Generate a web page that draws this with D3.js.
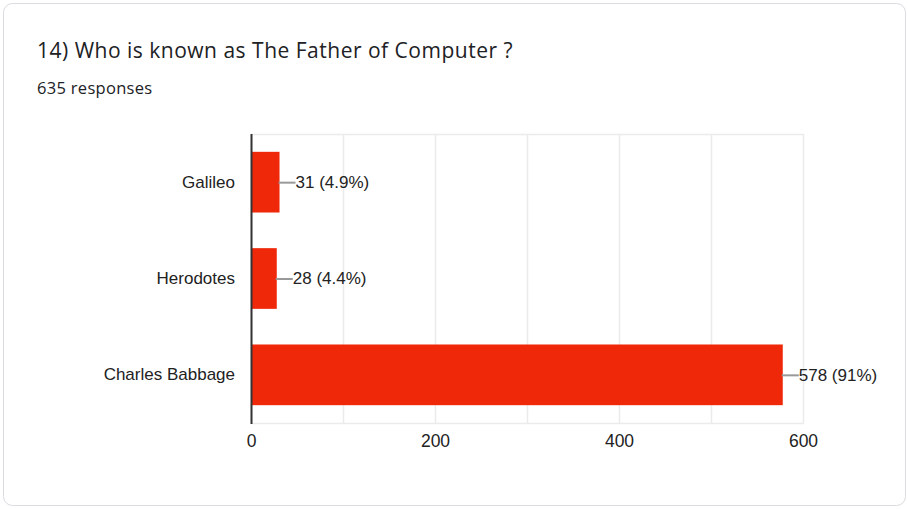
<!DOCTYPE html>
<html><head><meta charset="utf-8">
<script src="https://cdn.jsdelivr.net/npm/d3@7"></script>
<style>body{margin:0;background:#fff}svg{display:block}</style>
</head><body>
<svg id="c" width="908" height="509"></svg>
<script>
const categories = ["Galileo", "Herodotes", "Charles Babbage"];
const values = [31, 28, 578];
const percents = ["4.9%", "4.4%", "91%"];
const ticks = [0, 200, 400, 600];
const gridTicks = [0, 100, 200, 300, 400, 500, 600];
const title = "14) Who is known as The Father of Computer ?";
const subtitle = "635 responses";

(function () {
const svg = d3.select("#c");
svg.append("rect").attr("x", 3.5).attr("y", 3.5).attr("width", 902).attr("height", 502)
  .attr("rx", 9).attr("fill", "#fff").attr("stroke", "#dadce0").attr("stroke-width", 1);
svg.append("text").attr("x", 37).attr("y", 58).text(title)
  .attr("font-family", "Open Sans, sans-serif").attr("font-size", 21).attr("letter-spacing", 0.5).attr("fill", "#202124");
svg.append("text").attr("x", 37).attr("y", 94).text(subtitle)
  .attr("font-family", "Open Sans, sans-serif").attr("font-size", 16.5).attr("letter-spacing", 0.3).attr("fill", "#202124");

const mL = 251, mR = 803, mT = 134, mB = 423;
const x = d3.scaleLinear().domain([0, 600]).range([mL, mR]);
const y = d3.scaleBand().domain(categories).range([mT, mB]).paddingInner(0.37).paddingOuter(0.185);

const g = svg.append("g");
g.selectAll("line.grid").data(gridTicks).join("line").attr("class", "grid")
  .attr("x1", d => x(d) + 0.5).attr("x2", d => x(d) + 0.5).attr("y1", mT).attr("y2", mB)
  .attr("stroke", "#ebebeb").attr("stroke-width", 1.5);
[mT, mB].forEach(yy => g.append("line").attr("x1", mL).attr("x2", mR + 1)
  .attr("y1", yy + 0.5).attr("y2", yy + 0.5).attr("stroke", "#ebebeb").attr("stroke-width", 1.5));

const data = categories.map((c, i) => ({c, v: values[i], p: percents[i]}));
g.selectAll("rect.bar").data(data).join("rect").attr("class", "bar")
  .attr("x", x(0)).attr("y", d => y(d.c)).attr("width", d => x(d.v) - x(0)).attr("height", y.bandwidth())
  .attr("fill", "#f0280a");

g.selectAll("line.lead").data(data).join("line").attr("class", "lead")
  .attr("x1", d => x(d.v) - 1).attr("x2", d => x(d.v) + 16)
  .attr("y1", d => y(d.c) + y.bandwidth() / 2 + 0.5).attr("y2", d => y(d.c) + y.bandwidth() / 2 + 0.5)
  .attr("stroke", "#999").attr("stroke-width", 2);
g.selectAll("text.val").data(data).join("text").attr("class", "val")
  .attr("x", d => x(d.v) + 16).attr("y", d => y(d.c) + y.bandwidth() / 2).attr("dy", "0.35em")
  .text(d => `${d.v} (${d.p})`)
  .attr("font-family", "Liberation Sans, Arial, sans-serif").attr("font-size", 17).attr("fill", "#222");

const yAxis = g.append("g").attr("transform", `translate(${mL - 16},0)`)
  .call(d3.axisLeft(y).tickSize(0).tickPadding(0));
yAxis.select(".domain").remove();
yAxis.selectAll("text").attr("font-family", "Liberation Sans, Arial, sans-serif").attr("font-size", 17).attr("fill", "#222");

const xAxis = g.append("g").attr("transform", `translate(0,${mB})`)
  .call(d3.axisBottom(x).tickValues(ticks).tickSize(0).tickPadding(12).tickFormat(d3.format("d")));
xAxis.select(".domain").remove();
xAxis.selectAll("text").attr("font-family", "Liberation Sans, Arial, sans-serif").attr("font-size", 17.5).attr("fill", "#222");

g.append("line").attr("x1", mL + 0.5).attr("x2", mL + 0.5).attr("y1", mT).attr("y2", mB + 1)
  .attr("stroke", "#333").attr("stroke-width", 2);
})();
</script>
</body></html>
